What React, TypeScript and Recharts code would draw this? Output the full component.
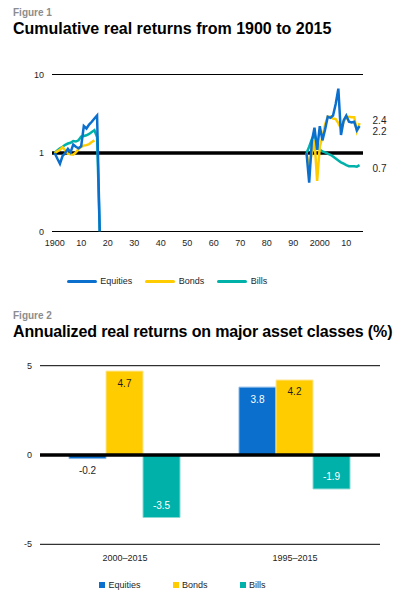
import React from "react";
import {
  LineChart,
  Line,
  XAxis,
  YAxis,
  ReferenceLine,
  BarChart,
  Bar,
  LabelList,
} from "recharts";

const FONT = '"Liberation Sans", Arial, Helvetica, sans-serif';
const BLUE = "#0b6fce";
const YELLOW = "#ffcc00";
const TEAL = "#00b1a9";
const INK = "#1e1e1e";

// Figure 1: cumulative real returns (log scale, 1 = start value)
const earlyYears = [
  1900, 1901, 1902, 1903, 1904, 1905, 1906, 1907, 1908, 1909, 1910, 1911,
  1912, 1913, 1914, 1915, 1916, 1917,
];
const earlyEquities = [
  1.0, 0.85, 0.73, 0.92, 1.0, 1.13, 1.02, 1.28, 1.2, 1.15, 1.22, 2.2, 2.05,
  2.3, 2.5, 2.75, 3.0, 0,
];
const earlyBonds = [
  1.0, 1.05, 1.1, 1.18, 1.08, 0.98, 0.96, 0.95, 1.02, 1.12, 1.2, 1.25, 1.26,
  1.3, 1.38, 1.45,
];
const earlyBills = [
  1.0, 1.08, 1.15, 1.2, 1.27, 1.32, 1.35, 1.42, 1.4, 1.45, 1.62, 1.65, 1.68,
  1.75, 1.85, 1.95, 1.6, 0,
];

const lateYears = [
  1995, 1996, 1997, 1998, 1999, 2000, 2001, 2002, 2003, 2004, 2005, 2006,
  2007, 2008, 2009, 2010, 2011, 2012, 2013, 2014, 2015,
];
const lateEquities = [
  1.0, 0.42, 1.4, 2.1, 1.1, 2.2, 1.45, 2.0, 2.9, 2.8, 3.0, 4.2, 6.6, 1.7, 2.6,
  3.0, 2.5, 2.45, 2.5, 1.95, 2.2,
];
const lateBonds = [
  1.0, 0.66, 1.0, 1.45, 0.44, 1.2, 1.6, 2.3, 2.9, 2.9, 2.75, 2.7, 2.4, 2.05,
  2.5, 2.8, 2.9, 2.85, 2.85, 1.9, 2.4,
];
const lateBills = [
  1.0, 1.2, 1.5, 1.75, 1.25, 1.1, 1.05, 1.02, 0.98, 0.95, 0.9, 0.85, 0.8,
  0.76, 0.73, 0.7, 0.68, 0.68, 0.68, 0.67, 0.7,
];

const yearTicks = [
  1900, 1910, 1920, 1930, 1940, 1950, 1960, 1970, 1980, 1990, 2000, 2010,
];
const cumTicks = [0.1, 1, 10];

// Figure 2: annualized real returns (%)
const periods = ["2000–2015", "1995–2015"];
const annEquities = [-0.2, 3.8];
const annBonds = [4.7, 4.2];
const annBills = [-3.5, -1.9];
const pctTicks = [-5, 0, 5];

// a log axis has no zero: values that hit zero sit on the bottom line
const LOG_FLOOR = 0.1;
const floorLog = (v: number | undefined) =>
  v === undefined || v === null ? null : Math.max(v, LOG_FLOOR);

const cumRows = [
  ...earlyYears.map((year, i) => ({
    year,
    equities: floorLog(earlyEquities[i]),
    bonds: floorLog(earlyBonds[i]),
    bills: floorLog(earlyBills[i]),
  })),
  // break between the two periods
  { year: 1956, equities: null, bonds: null, bills: null },
  ...lateYears.map((year, i) => ({
    year,
    equities: floorLog(lateEquities[i]),
    bonds: floorLog(lateBonds[i]),
    bills: floorLog(lateBills[i]),
  })),
];

const annRows = periods.map((period, i) => ({
  period,
  equities: annEquities[i],
  bonds: annBonds[i],
  bills: annBills[i],
}));

const tickStyle = { fontSize: 9, fill: INK, fontFamily: FONT };

const endLabel = (dy: number) => (props: any) => {
  if (props.index !== cumRows.length - 1) return null;
  return (
    <text
      x={props.x + 13}
      y={props.y + dy}
      dy="0.35em"
      fontSize={10}
      fill={INK}
      fontFamily={FONT}
    >
      {Number(props.value).toFixed(1)}
    </text>
  );
};

const barLabel = (inside: string) => (props: any) => {
  const { x, y, width, height, value } = props;
  const top = Math.min(y, y + height);
  const bottom = Math.max(y, y + height);
  let ty = top + 12;
  let fill = inside;
  if (value < 0) {
    if (bottom - top > 20) {
      ty = bottom - 12;
    } else {
      ty = bottom + 11.5;
      fill = INK;
    }
  }
  return (
    <text
      x={x + width / 2}
      y={ty}
      dy="0.35em"
      textAnchor="middle"
      fontSize={10}
      fill={fill}
      fontFamily={FONT}
    >
      {Number(value).toFixed(1)}
    </text>
  );
};

function Heading({
  top,
  fig,
  title,
  spacing = 0,
}: {
  top: number;
  fig: string;
  title: string;
  spacing?: number;
}) {
  return (
    <>
      <div
        style={{
          position: "absolute",
          left: 13,
          top,
          fontSize: 10,
          lineHeight: "10px",
          fontWeight: 700,
          color: "#8c8c8c",
        }}
      >
        {fig}
      </div>
      <div
        style={{
          position: "absolute",
          left: 13,
          top: top + 12.8,
          fontSize: 16,
          lineHeight: "16px",
          fontWeight: 700,
          letterSpacing: spacing,
          color: "#000",
          whiteSpace: "nowrap",
        }}
      >
        {title}
      </div>
    </>
  );
}

const legendItems = [
  { name: "Equities", color: BLUE },
  { name: "Bonds", color: YELLOW },
  { name: "Bills", color: TEAL },
];

function LineLegend() {
  return (
    <div
      style={{
        position: "absolute",
        left: 66.7,
        top: 275,
        height: 12,
        display: "flex",
        alignItems: "center",
        fontSize: 9,
        color: INK,
      }}
    >
      {legendItems.map((item) => (
        <div key={item.name} style={{ display: "flex", alignItems: "center", marginRight: 13 }}>
          <div
            style={{
              width: 30,
              height: 3,
              borderRadius: 1.5,
              background: item.color,
              marginRight: 3.5,
            }}
          />
          <span>{item.name}</span>
        </div>
      ))}
    </div>
  );
}

function BarLegend() {
  return (
    <div
      style={{
        position: "absolute",
        left: 99,
        top: 579,
        height: 12,
        display: "flex",
        alignItems: "center",
        fontSize: 9,
        color: INK,
      }}
    >
      {legendItems.map((item) => (
        <div key={item.name} style={{ display: "flex", alignItems: "center", marginRight: 32 }}>
          <div
            style={{
              width: 6,
              height: 6,
              background: item.color,
              marginRight: 3.5,
            }}
          />
          <span>{item.name}</span>
        </div>
      ))}
    </div>
  );
}

export default function App() {
  return (
    <div
      style={{
        position: "absolute",
        left: 0,
        top: 0,
        width: 409,
        height: 601,
        background: "#fff",
        overflow: "hidden",
        fontFamily: FONT,
      }}
    >
      <Heading top={8.2} fig="Figure 1" title="Cumulative real returns from 1900 to 2015" />

      <div style={{ position: "absolute", left: 0, top: 0 }}>
        <LineChart
          width={409}
          height={300}
          data={cumRows}
          margin={{ top: 74.5, right: 46, bottom: 38.5, left: 0 }}
        >
          <XAxis
            type="number"
            dataKey="year"
            domain={[1899, 2016.3]}
            ticks={yearTicks}
            interval={0}
            allowDataOverflow
            axisLine={false}
            tickLine={false}
            tickSize={0}
            tickMargin={8}
            height={30}
            tick={tickStyle}
            tickFormatter={(v: number) => (v % 100 === 0 ? String(v) : String(v % 100))}
          />
          <YAxis
            scale="log"
            domain={[0.1, 10]}
            ticks={cumTicks}
            allowDataOverflow
            axisLine={false}
            tickLine={false}
            tickSize={0}
            tickMargin={8}
            width={52}
            tick={tickStyle}
            tickFormatter={(v: number) => (v === LOG_FLOOR ? "0" : String(v))}
          />
          <ReferenceLine y={10} stroke="#000" strokeWidth={1} />
          <ReferenceLine y={0.1} stroke="#000" strokeWidth={1} />
          <ReferenceLine y={1} stroke="#000" strokeWidth={3.5} />
          <Line
            dataKey="bills"
            stroke={TEAL}
            strokeWidth={2.5}
            dot={false}
            isAnimationActive={false}
          >
            <LabelList dataKey="bills" content={endLabel(3)} />
          </Line>
          <Line
            dataKey="bonds"
            stroke={YELLOW}
            strokeWidth={2.5}
            dot={false}
            isAnimationActive={false}
          >
            <LabelList dataKey="bonds" content={endLabel(-2.5)} />
          </Line>
          <Line
            dataKey="equities"
            stroke={BLUE}
            strokeWidth={2.5}
            dot={false}
            isAnimationActive={false}
          >
            <LabelList dataKey="equities" content={endLabel(5.5)} />
          </Line>
        </LineChart>
      </div>
      <LineLegend />

      <Heading
        top={311.2}
        fig="Figure 2"
        title="Annualized real returns on major asset classes (%)"
        spacing={-0.15}
      />

      <div style={{ position: "absolute", left: 0, top: 300 }}>
        <BarChart
          width={409}
          height={301}
          data={annRows}
          margin={{ top: 65.7, right: 29, bottom: 26.7, left: 0 }}
          barCategoryGap={29}
          barGap={0}
        >
          <XAxis
            dataKey="period"
            axisLine={false}
            tickLine={false}
            tickSize={0}
            tickMargin={10}
            height={30}
            tick={tickStyle}
          />
          <YAxis
            type="number"
            domain={[-5, 5]}
            ticks={pctTicks}
            axisLine={false}
            tickLine={false}
            tickSize={0}
            tickMargin={8}
            width={40}
            tick={tickStyle}
          />
          <ReferenceLine y={5} stroke="#000" strokeWidth={1} />
          <ReferenceLine y={-5} stroke="#000" strokeWidth={1} />
          <Bar dataKey="equities" fill={BLUE} stroke="#86b6e6" strokeWidth={1} isAnimationActive={false}>
            <LabelList dataKey="equities" content={barLabel("#fff")} />
          </Bar>
          <Bar dataKey="bonds" fill={YELLOW} stroke="#ffe697" strokeWidth={1} isAnimationActive={false}>
            <LabelList dataKey="bonds" content={barLabel(INK)} />
          </Bar>
          <Bar dataKey="bills" fill={TEAL} stroke="#86d9d4" strokeWidth={1} isAnimationActive={false}>
            <LabelList dataKey="bills" content={barLabel("#fff")} />
          </Bar>
          <ReferenceLine y={0} stroke="#000" strokeWidth={3.5} />
        </BarChart>
      </div>
      <BarLegend />
    </div>
  );
}
